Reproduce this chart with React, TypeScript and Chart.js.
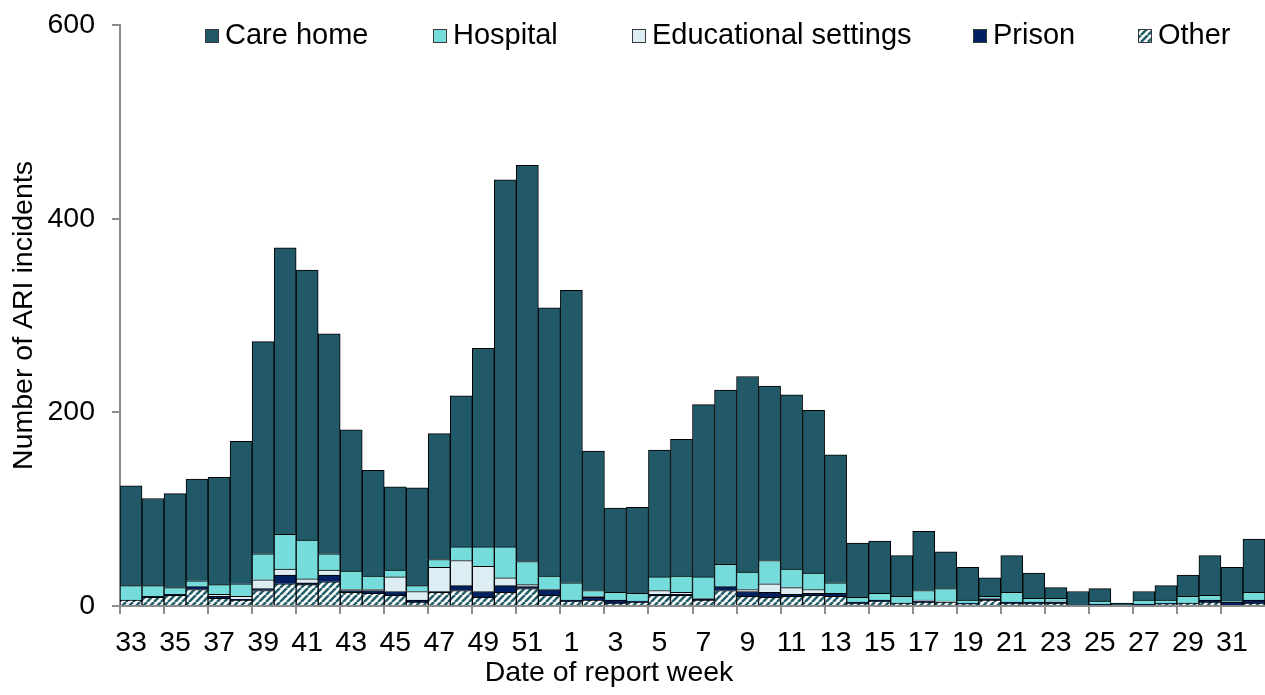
import React, { useEffect, useRef } from 'react';
import { Chart, registerables } from 'chart.js';

Chart.register(...registerables);

const weeks = [
  '33', '34', '35', '36', '37', '38', '39', '40', '41', '42', '43', '44', '45', '46', '47', '48', '49', '50', '51', '52',
  '1', '2', '3', '4', '5', '6', '7', '8', '9', '10', '11', '12', '13', '14', '15', '16', '17', '18', '19', '20',
  '21', '22', '23', '24', '25', '26', '27', '28', '29', '30', '31', '32',
];

const careHome = [
  103, 90, 97, 105, 111, 147, 219, 296, 279, 227, 146, 109, 86, 101, 130, 156, 205, 379, 409, 277,
  302, 144, 87, 89, 131, 141, 178, 180, 202, 180, 180, 168, 132, 56, 54, 42, 61, 38, 34, 19,
  38, 26, 11, 14, 13, 3, 9, 15, 22, 41, 35, 55,
];
const hospital = [
  15, 11, 7, 6, 10, 13, 27, 36, 40, 17, 19, 14, 7, 6, 8, 14, 20, 32, 24, 14,
  18, 6, 8, 8, 14, 17, 22, 23, 18, 24, 19, 17, 11, 5, 7, 7, 10, 13, 3, 2,
  10, 4, 3, 0, 3, 0, 4, 3, 7, 5, 1, 8,
];
const educational = [
  0, 0, 0, 0, 2, 3, 9, 6, 4, 5, 1, 1, 15, 9, 25, 26, 26, 8, 2, 0,
  0, 1, 0, 0, 4, 2, 1, 0, 2, 9, 7, 4, 0, 0, 0, 0, 1, 1, 0, 1,
  0, 0, 1, 0, 0, 0, 0, 0, 0, 0, 0, 0,
];
const prison = [
  0, 1, 1, 3, 2, 1, 2, 9, 2, 7, 2, 3, 4, 2, 1, 5, 6, 7, 2, 6,
  1, 3, 3, 1, 1, 1, 1, 4, 5, 5, 2, 2, 3, 1, 1, 0, 1, 0, 1, 1,
  1, 1, 1, 0, 1, 0, 1, 1, 0, 2, 3, 3,
];
const other = [
  6, 9, 11, 17, 8, 6, 16, 23, 22, 25, 14, 13, 11, 4, 14, 16, 9, 14, 18, 11,
  5, 6, 3, 4, 11, 11, 6, 16, 10, 9, 10, 11, 10, 3, 5, 3, 4, 4, 2, 6,
  3, 3, 3, 1, 1, 0, 1, 2, 3, 4, 1, 3,
];

const yTicks = [0, 200, 400, 600];
const seriesNames = ['Care home', 'Hospital', 'Educational settings', 'Prison', 'Other'];
const xTitle = 'Date of report week';
const yTitle = 'Number of ARI incidents';

const FONT = 'Arial, "Liberation Sans", sans-serif';
const C_CARE = '#215968';
const C_HOSP = '#76DCDB';
const C_EDU = '#DCEEF3';
const C_PRISON = '#002060';
const C_HATCH = '#23606C';
const AXIS_GREY = '#8c8c8c';

function makeHatch(): CanvasPattern | string {
  const s = 7;
  const c = document.createElement('canvas');
  c.width = s;
  c.height = s;
  const g = c.getContext('2d');
  if (!g) return C_HATCH;
  g.fillStyle = '#ffffff';
  g.fillRect(0, 0, s, s);
  g.strokeStyle = C_HATCH;
  g.lineWidth = 2.6;
  g.beginPath();
  for (const k of [-s, 0, s]) {
    g.moveTo(k, s);
    g.lineTo(k + s, 0);
  }
  g.stroke();
  return g.createPattern(c, 'repeat') || C_HATCH;
}

const LEGEND_X = [205, 433, 632, 973, 1138];

const legendPlugin = {
  id: 'customLegend',
  afterDraw(chart: any) {
    const ctx = chart.ctx as CanvasRenderingContext2D;
    const ds = chart.data.datasets;
    ctx.save();
    ctx.font = `29px ${FONT}`;
    ctx.textBaseline = 'alphabetic';
    ctx.textAlign = 'left';
    seriesNames.forEach((name, i) => {
      const d = ds.find((x: any) => x.label === name);
      const x = LEGEND_X[i];
      ctx.fillStyle = d ? d.backgroundColor : '#000';
      ctx.fillRect(x, 29, 14, 14);
      ctx.strokeStyle = '#3a3a3a';
      ctx.lineWidth = 1;
      ctx.strokeRect(x + 0.5, 29.5, 13, 13);
      ctx.fillStyle = '#000';
      ctx.fillText(name, x + 20, 43.5);
    });
    // x axis title
    ctx.font = `28.5px ${FONT}`;
    ctx.textAlign = 'center';
    ctx.textBaseline = 'middle';
    ctx.fillText(xTitle, 609, 673);
    ctx.restore();
  },
};

export default function App() {
  const ref = useRef<HTMLCanvasElement | null>(null);

  useEffect(() => {
    if (!ref.current) return;
    const hatch = makeHatch();
    const chart = new Chart(ref.current, {
      type: 'bar',
      data: {
        labels: weeks,
        datasets: [
          { label: 'Other', data: other, backgroundColor: hatch as any },
          { label: 'Prison', data: prison, backgroundColor: C_PRISON },
          { label: 'Educational settings', data: educational, backgroundColor: C_EDU },
          { label: 'Hospital', data: hospital, backgroundColor: C_HOSP },
          { label: 'Care home', data: careHome, backgroundColor: C_CARE },
        ].map((d) => ({
          ...d,
          borderColor: '#000000',
          borderWidth: 1,
          barPercentage: 1,
          categoryPercentage: 1,
        })),
      },
      options: {
        responsive: false,
        animation: false,
        devicePixelRatio: 1,
        layout: { padding: { top: 25, right: 0, left: 0, bottom: 0 } },
        plugins: {
          legend: { display: false },
          tooltip: { enabled: false },
        },
        scales: {
          x: {
            stacked: true,
            grid: {
              offset: true,
              drawOnChartArea: false,
              drawTicks: true,
              tickLength: 8,
              lineWidth: 2,
              color: (c: any) => (c.index % 2 === 0 ? AXIS_GREY : 'rgba(0,0,0,0)'),
            },
            border: { display: true, color: AXIS_GREY, width: 2 },
            ticks: {
              autoSkip: false,
              maxRotation: 0,
              minRotation: 0,
              padding: 12,
              color: '#000',
              font: { family: FONT, size: 28.5 },
              callback: (_v: any, i: number) => (i % 2 === 0 ? weeks[i] : ''),
            },
            afterFit: (scale: any) => {
              scale.height = 89;
              scale.paddingLeft = 0;
              scale.paddingRight = 0;
            },
          },
          y: {
            stacked: true,
            min: 0,
            max: 600,
            afterBuildTicks: (scale: any) => {
              scale.ticks = yTicks.map((v) => ({ value: v }));
            },
            grid: {
              drawOnChartArea: false,
              drawTicks: true,
              tickLength: 8,
              lineWidth: 2,
              color: AXIS_GREY,
            },
            border: { display: true, color: AXIS_GREY, width: 2 },
            ticks: {
              padding: 17,
              color: '#000',
              font: { family: FONT, size: 28.5 },
            },
            title: {
              display: true,
              text: yTitle,
              color: '#000',
              font: { family: FONT, size: 28.5 },
              padding: { top: 7, bottom: 0 },
            },
            afterFit: (scale: any) => {
              scale.width = 120;
              scale.paddingTop = 0;
              scale.paddingBottom = 0;
            },
          },
        },
      },
      plugins: [legendPlugin],
    });
    return () => chart.destroy();
  }, []);

  return (
    <div style={{ position: 'absolute', left: 0, top: 0, width: 1265, height: 695, background: '#fff' }}>
      <canvas ref={ref} width={1265} height={695} style={{ display: 'block' }} />
    </div>
  );
}
